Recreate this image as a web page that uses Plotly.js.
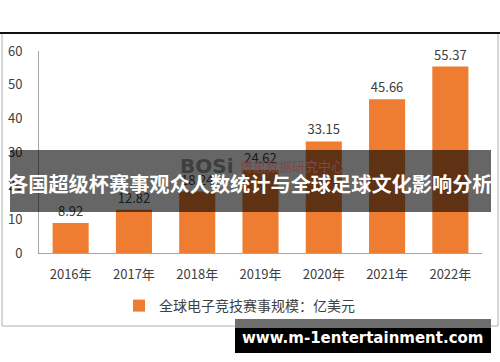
<!DOCTYPE html>
<html>
<head>
<meta charset="utf-8">
<script src="https://cdn.plot.ly/plotly-3.0.1.min.js"></script>
<style>
html,body{margin:0;padding:0;background:#fff;overflow:hidden;}
#chart{width:500px;height:362px;}
</style>
</head>
<body>
<div id="chart"></div>
<script>
// ---- data ----
var years = ["2016年","2017年","2018年","2019年","2020年","2021年","2022年"];
var values = [8.92, 12.82, 18.24, 24.62, 33.15, 45.66, 55.37];
var valueLabels = ["8.92","12.82","18.24","24.62","33.15","45.66","55.37"];
var yTicks = [0, 10, 20, 30, 40, 50, 60];
var seriesName = "全球电子竞技赛事规模：亿美元";
var overlayTitle = "各国超级杯赛事观众人数统计与全球足球文化影响分析";
var siteText = "www.m-1entertainment.com";

// ---- pixel helpers (plot area: x 39..482, y 51..253) ----
var L = 39, R = 482, T = 51, B = 253;
function px(x){ return (x - L) / (R - L); }
function py(y){ return (B - y) / (B - T); }

var font = "'Noto Sans CJK SC', 'Noto Sans', sans-serif";

var trace = {
  type: "bar",
  x: years,
  y: values,
  name: seriesName,
  text: valueLabels,
  textposition: "outside",
  cliponaxis: false,
  textfont: {family: font, size: 13, color: "#404040"},
  marker: {color: "#ee7d31", line: {width: 0}},
  hoverinfo: "x+y"
};

var layout = {
  width: 500, height: 362, autosize: false,
  margin: {l: L, r: 500 - R, t: T, b: 362 - B, pad: 0},
  paper_bgcolor: "#fff", plot_bgcolor: "#fff",
  bargap: 0.43,
  showlegend: true,
  legend: {
    orientation: "h", x: px(119), xanchor: "left", y: py(306), yanchor: "middle",
    font: {family: font, size: 14, color: "#404040"},
    bgcolor: "rgba(0,0,0,0)"
  },
  font: {family: font, color: "#404040"},
  xaxis: {
    showline: true, linecolor: "#a6a6a6", linewidth: 1,
    showgrid: false, zeroline: false, ticks: "",
    tickfont: {family: font, size: 13, color: "#404040"},
    ticklabelstandoff: 9
  },
  yaxis: {
    range: [0, 60], tickvals: yTicks,
    showline: true, linecolor: "#a6a6a6", linewidth: 1,
    showgrid: false, zeroline: false, ticks: "",
    tickfont: {family: font, size: 13, color: "#404040"},
    ticklabelstandoff: 13
  },
  shapes: [
    // chart image border
    {type: "rect", xref: "paper", yref: "paper", x0: px(2), x1: px(498), y0: py(326), y1: py(33),
     line: {color: "#b0b0b0", width: 1}, fillcolor: "rgba(0,0,0,0)", layer: "below"},
    {type: "line", xref: "paper", yref: "paper", x0: px(0), x1: px(500), y0: py(33), y1: py(33),
     line: {color: "#111", width: 2}, layer: "above"},
    // dark title banner
    {type: "rect", xref: "paper", yref: "paper", x0: px(10), x1: px(491), y0: py(212), y1: py(150),
     line: {width: 0}, fillcolor: "rgba(0,0,0,0.6)", layer: "above"},
    // bottom site banner
    {type: "rect", xref: "paper", yref: "paper", x0: px(235), x1: px(491), y0: py(353), y1: py(319),
     line: {width: 0}, fillcolor: "#000000", layer: "above"},
    {type: "rect", xref: "paper", yref: "paper", x0: px(235), x1: px(491), y0: py(328), y1: py(319),
     line: {width: 0}, fillcolor: "#6e6e6e", layer: "above"}
  ],
  annotations: [
    // watermark (seen through banner)
    {xref: "paper", yref: "paper", x: px(207), y: py(166), showarrow: false,
     text: "<b>BOSi</b>", font: {family: "'DejaVu Sans', sans-serif", size: 20, color: "#3e3e3e"}},
    {xref: "paper", yref: "paper", x: px(292), y: py(165), showarrow: false,
     text: "博思数据研究中心", font: {family: font, size: 13, color: "#7a4a4a"}},
    // overlay title
    {xref: "paper", yref: "paper", x: px(250), y: py(183), showarrow: false,
     xanchor: "center", yanchor: "middle",
     text: "<b>" + overlayTitle + "</b>",
     font: {family: font, size: 20.2, color: "#ffffff"}},
    // site text
    {xref: "paper", yref: "paper", x: px(363), y: py(338), showarrow: false,
     xanchor: "center", yanchor: "middle",
     text: "<b>" + siteText + "</b>",
     font: {family: "'DejaVu Sans', sans-serif", size: 15, color: "#ffffff"}}
  ]
};

Plotly.newPlot("chart", [trace], layout, {displayModeBar: false, staticPlot: true});
</script>
</body>
</html>
